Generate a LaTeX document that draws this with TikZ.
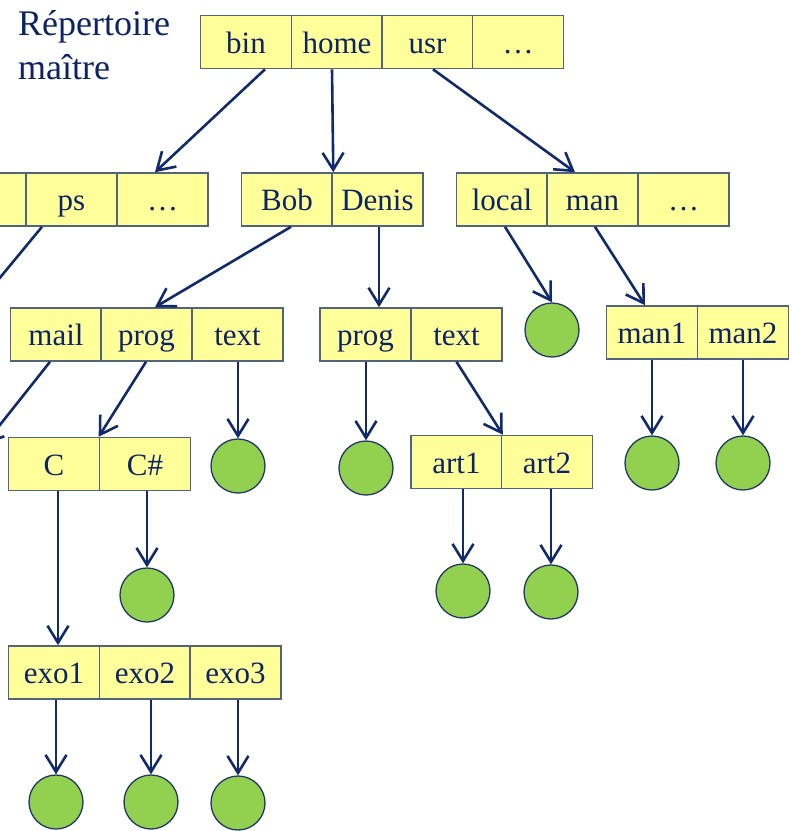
\documentclass[tikz,border=0pt]{standalone}
\usepackage{fontspec}
\setmainfont{Liberation Serif}
\usetikzlibrary{arrows.meta,calc}

\definecolor{inknavy}{HTML}{0C2366}
\definecolor{linknavy}{HTML}{102A6B}
\definecolor{cellfill}{HTML}{FFFF99}
\definecolor{celledge}{HTML}{52627F}
\definecolor{leafgreen}{HTML}{92D050}
\definecolor{leafedge}{HTML}{1F3864}

\tikzset{
  cell/.style={rectangle, draw=celledge, line width=1.6pt, fill=cellfill,
    minimum width=91pt, minimum height=53pt, inner sep=0pt,
    text height=28pt, text depth=6pt,
    text=inknavy, font=\fontsize{31}{36}\selectfont},
  leaf/.style={circle, draw=leafedge, line width=1.3pt, fill=leafgreen,
    minimum size=54pt, inner sep=0pt},
  link/.style={draw=linknavy, line width=2.6pt,
    -{Straight Barb[length=17pt,width=21pt]}},
}

\begin{document}
\begin{tikzpicture}[x=1pt,y=-1pt]
\useasboundingbox (0,0) rectangle (792,831);
\clip (0,0) rectangle (792,831);

% title (base anchor sits on the last line)
\node[anchor=base west, align=left, inner sep=0pt, text=inknavy,
      font=\fontsize{36}{44}\selectfont] (title) at (18,79) {Répertoire\\maître};

% root directory
\node[cell] (bin)   at (246,42)   {bin};
\node[cell] (home)  at (337,42)   {home};
\node[cell] (usr)   at (427.5,42) {usr};
\node[cell] (rdots) at (518,42)   {\dots};

% second level
\node[cell] (hidden) at (-19.5,199.5) {};
\node[cell] (ps)     at (71.5,199.5)  {ps};
\node[cell] (bdots)  at (162.5,199.5) {\dots};

\node[cell] (bob)   at (287,199.5)   {Bob};
\node[cell] (denis) at (377.5,199.5) {Denis};

\node[cell] (local) at (502,199.5)   {local};
\node[cell] (man)   at (592.5,199.5) {man};
\node[cell] (udots) at (683.5,199.5) {\dots};

% third level
\node[cell] (mail)  at (56,334.5)    {mail};
\node[cell] (progA) at (146.5,334.5) {prog};
\node[cell] (textA) at (237.5,334.5) {text};

\node[cell] (progB) at (365.5,334.5) {prog};
\node[cell] (textB) at (456.5,334.5) {text};

\node[leaf] (localf) at (552,330) {};

\node[cell] (man1) at (652,332.5) {man1};
\node[cell] (man2) at (743,332.5) {man2};

% fourth level
\node[cell] (cc)  at (54,464)  {C};
\node[cell] (csh) at (145,464) {C\#};

\node[leaf] (textAf) at (238,466) {};
\node[leaf] (progBf) at (366,468) {};

\node[cell] (art1) at (456.5,462) {art1};
\node[cell] (art2) at (547,462)   {art2};

\node[leaf] (man1f) at (652,463) {};
\node[leaf] (man2f) at (743,463) {};

% fifth level
\node[leaf] (cshf)  at (147,595) {};
\node[leaf] (art1f) at (463,591) {};
\node[leaf] (art2f) at (551,592) {};

% exercises
\node[cell] (exo1) at (54,672.5)    {exo1};
\node[cell] (exo2) at (145,672.5)   {exo2};
\node[cell] (exo3) at (235.5,672.5) {exo3};

\node[leaf] (exo1f) at (56,802)  {};
\node[leaf] (exo2f) at (151,802) {};
\node[leaf] (exo3f) at (238,803) {};

% off-page targets
\coordinate (psto)   at (-35,320);
\coordinate (mailto) at (-16,445);

% links from the root
\draw[link] ([xshift=19pt]bin.south) -- ([xshift=-7.5pt]bdots.north);
\draw[link] ([xshift=-5pt]home.south) -- (bob.north east);
\draw[link] ([xshift=5.5pt]usr.south) -- ([xshift=-17.5pt]man.north);

% links from the second level
\draw[link] ([xshift=-29.5pt]ps.south) -- (psto);
\draw[link] ([xshift=4pt]bob.south) -- ([xshift=8.5pt]progA.north);
\draw[link] ([xshift=1.5pt]denis.south) -- ([xshift=1.5pt]denis.south |- progB.north);
\draw[link] ([xshift=3pt]local.south) -- (localf.north);
\draw[link] ([xshift=2.5pt]man.south) -- ([xshift=-7pt]man1.north);

% links from the third level
\draw[link] ([xshift=-6pt]mail.south) -- (mailto);
\draw[link] ([xshift=-0.5pt]progA.south) -- (csh.north west);
\draw[link] ([xshift=0.5pt]textA.south) -- (textAf.north);
\draw[link] ([xshift=0.5pt]progB.south) -- (progBf.north);
\draw[link] (textB.south) -- (art1.north east);
\draw[link] (man1.south) -- (man1f.north);
\draw[link] (man2.south) -- (man2f.north);

% links from the fourth level
\draw[link] ([xshift=4pt]cc.south) -- ([xshift=4pt]cc.south |- exo1.north);
\draw[link] ([xshift=2pt]csh.south) -- (cshf.north);
\draw[link] ([xshift=6.5pt]art1.south) -- (art1f.north);
\draw[link] ([xshift=4pt]art2.south) -- (art2f.north);

% links from the exercises
\draw[link] ([xshift=2pt]exo1.south) -- (exo1f.north);
\draw[link] ([xshift=6pt]exo2.south) -- (exo2f.north);
\draw[link] ([xshift=2.5pt]exo3.south) -- (exo3f.north);
\end{tikzpicture}
\end{document}
